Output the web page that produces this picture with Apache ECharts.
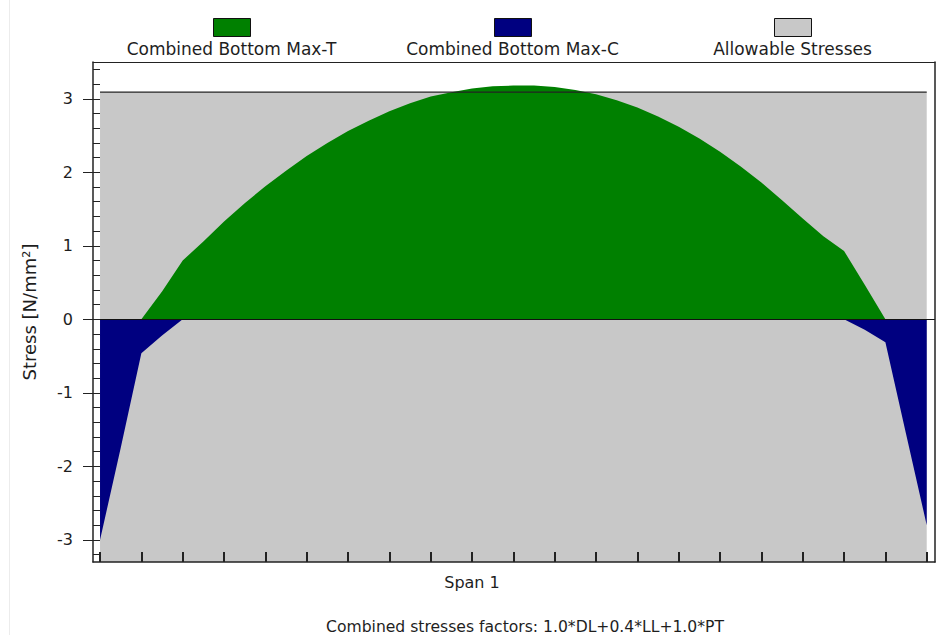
<!DOCTYPE html>
<html>
<head>
<meta charset="utf-8">
<script src="https://cdn.jsdelivr.net/npm/echarts@6/dist/echarts.min.js"></script>
<style>
  html, body { margin: 0; padding: 0; background: #ffffff; }
  #chart { width: 936px; height: 635px; }
</style>
</head>
<body>
<div id="chart"></div>
<script>
// Stations along the span (tenths of span length)
const stations = [0, 0.5, 1, 1.5, 2, 2.5, 3, 3.5, 4, 4.5, 5, 5.5, 6, 6.5, 7, 7.5, 8, 8.5, 9, 9.5,
  10, 10.5, 11, 11.5, 12, 12.5, 13, 13.5, 14, 14.5, 15, 15.5, 16, 16.5, 17, 17.5, 18, 18.5, 19, 19.5, 20];

// Combined bottom fibre stress, maximum tension envelope [N/mm²]
const maxTension = [0, 0, 0, 0.38, 0.80, 1.06, 1.33, 1.58, 1.81, 2.02, 2.22, 2.40, 2.56, 2.70, 2.83, 2.94,
  3.03, 3.09, 3.14, 3.17, 3.18, 3.18, 3.16, 3.12, 3.06, 2.98, 2.88, 2.76, 2.62, 2.46, 2.28, 2.08,
  1.86, 1.62, 1.37, 1.13, 0.93, 0.47, 0, 0, 0];

// Combined bottom fibre stress, maximum compression envelope [N/mm²]
const maxCompression = [-3.00, -1.75, -0.46, -0.22, 0, 0, 0, 0, 0, 0, 0, 0, 0, 0, 0, 0,
  0, 0, 0, 0, 0, 0, 0, 0, 0, 0, 0, 0, 0, 0, 0, 0,
  0, 0, 0, 0, 0, -0.14, -0.31, -1.56, -2.80];

// Allowable tensile stress limit across the span
const allowableStations = [0, 20];
const allowableTension = [3.09, 3.09];

// Axis ticks
const spanTicks = [0, 1, 2, 3, 4, 5, 6, 7, 8, 9, 10, 11, 12, 13, 14, 15, 16, 17, 18, 19, 20];
const stressTicks = [-3, -2, -1, 0, 1, 2, 3];
const stressMinorTicks = [-3.2, -3.0, -2.8, -2.6, -2.4, -2.2, -2.0, -1.8, -1.6, -1.4, -1.2, -1.0,
  -0.8, -0.6, -0.4, -0.2, 0, 0.2, 0.4, 0.6, 0.8, 1.0, 1.2, 1.4, 1.6, 1.8, 2.0, 2.2, 2.4, 2.6,
  2.8, 3.0, 3.2, 3.4];

const seriesNames = ['Combined Bottom Max-T', 'Combined Bottom Max-C', 'Allowable Stresses'];
const seriesColors = ['#008000', '#000080', '#c8c8c8'];

const FONT = 'DejaVu Sans';
const INK = '#1e1e1e';

const pairs = (xs, ys) => xs.map((x, i) => [x, ys[i]]);

const legendLefts = [213, 494, 774];
const legendCenters = [231.5, 512.5, 792.5];

const chart = echarts.init(document.getElementById('chart'), null, { renderer: 'svg' });

chart.setOption({
  animation: false,
  backgroundColor: '#ffffff',
  grid: { left: 93, right: 1, top: 62, bottom: 73, containLabel: false },
  // faint panel edge on the far left
  graphic: [{
    type: 'line', silent: true, z: -1,
    shape: { x1: 9.5, y1: 0, x2: 9.5, y2: 635 },
    style: { stroke: '#ececec', lineWidth: 1 }
  }],
  legend: seriesNames.map((name, i) => ({
    data: [{ name, icon: 'rect', itemStyle: { color: seriesColors[i], borderColor: '#111', borderWidth: 1 } }],
    left: legendLefts[i],
    top: 18,
    padding: 0,
    itemWidth: 37,
    itemHeight: 18,
    selectedMode: false,
    formatter: () => '',
    textStyle: { fontSize: 1 }
  })),
  title: seriesNames.map((name, i) => ({
    text: name,
    left: legendCenters[i],
    top: 40,
    padding: 0,
    textAlign: 'center',
    textStyle: { fontFamily: FONT, fontSize: 17, fontWeight: 'normal', color: INK }
  })).concat([{
    text: 'Combined stresses factors: 1.0*DL+0.4*LL+1.0*PT',
    left: 525,
    top: 619,
    padding: 0,
    textAlign: 'center',
    textStyle: { fontFamily: FONT, fontSize: 15.6, fontWeight: 'normal', color: INK }
  }]),
  xAxis: [
    {
      type: 'value', min: -0.17, max: 20.2, position: 'bottom', z: 10,
      axisLine: { onZero: false, lineStyle: { color: '#222', width: 1.5 } },
      axisTick: { inside: true, length: 10, customValues: spanTicks, lineStyle: { color: '#222', width: 2 } },
      axisLabel: { show: false },
      splitLine: { show: false },
      name: 'Span 1', nameLocation: 'middle', nameGap: 12,
      nameTextStyle: { fontFamily: FONT, fontSize: 16, color: INK, padding: [0, 84, 0, 0] }
    },
    {
      type: 'value', min: -0.17, max: 20.2, position: 'top', z: 10,
      axisLine: { onZero: false, lineStyle: { color: '#222', width: 1 } },
      axisTick: { show: false }, axisLabel: { show: false }, splitLine: { show: false }
    }
  ],
  yAxis: [
    {
      type: 'value', min: -3.3, max: 3.5, position: 'left', z: 10,
      axisLine: { onZero: false, lineStyle: { color: '#222', width: 1.5 } },
      axisTick: { inside: false, length: 10, customValues: stressTicks, lineStyle: { color: '#222', width: 1 } },
      axisLabel: { customValues: stressTicks, margin: 20, fontFamily: FONT, fontSize: 16, color: INK },
      splitLine: { show: false },
      name: 'Stress [N/mm²]', nameLocation: 'middle', nameGap: 55,
      nameTextStyle: { fontFamily: FONT, fontSize: 18, color: INK }
    },
    {
      type: 'value', min: -3.3, max: 3.5, position: 'left', z: 10,
      axisLine: { show: false, onZero: false },
      axisTick: { inside: true, length: 7, customValues: stressMinorTicks, lineStyle: { color: '#222', width: 1 } },
      axisLabel: { show: false }, splitLine: { show: false }
    },
    {
      type: 'value', min: -3.3, max: 3.5, position: 'right', z: 10,
      axisLine: { show: true, onZero: false, lineStyle: { color: '#222', width: 1.5 } },
      axisTick: { show: false }, axisLabel: { show: false }, splitLine: { show: false }
    }
  ],
  series: [
    {
      name: seriesNames[2], type: 'line', z: 1, silent: true,
      data: pairs(allowableStations, allowableTension),
      symbol: 'none', lineStyle: { width: 0 },
      itemStyle: { color: seriesColors[2] },
      areaStyle: { color: seriesColors[2], opacity: 1, origin: 'start' }
    },
    {
      name: seriesNames[0], type: 'line', z: 2, silent: true,
      data: pairs(stations, maxTension),
      symbol: 'none', lineStyle: { width: 0 },
      itemStyle: { color: seriesColors[0] },
      areaStyle: { color: seriesColors[0], opacity: 1 }
    },
    {
      name: seriesNames[1], type: 'line', z: 3, silent: true,
      data: pairs(stations, maxCompression),
      symbol: 'none', lineStyle: { width: 0 },
      itemStyle: { color: seriesColors[1] },
      areaStyle: { color: seriesColors[1], opacity: 1 }
    },
    {
      name: seriesNames[2], type: 'line', z: 4, silent: true,
      data: pairs(allowableStations, allowableTension),
      symbol: 'none', lineStyle: { color: '#222', width: 1.2 },
      itemStyle: { color: seriesColors[2] },
      markLine: {
        silent: true, symbol: 'none', label: { show: false },
        lineStyle: { color: '#111', width: 1.2, type: 'solid' },
        data: [{ yAxis: 0 }]
      }
    }
  ]
});
</script>
</body>
</html>
